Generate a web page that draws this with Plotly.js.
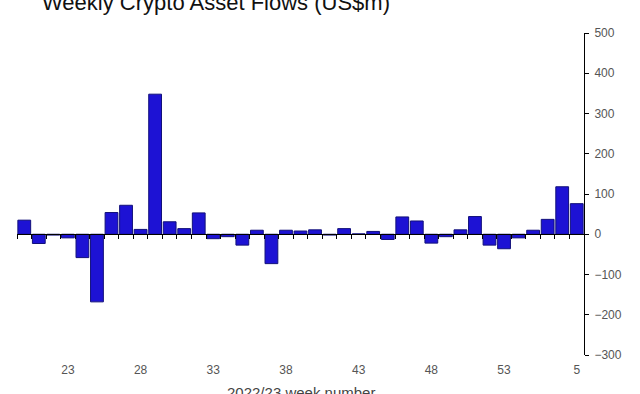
<!DOCTYPE html>
<html>
<head>
<meta charset="utf-8">
<script src="https://cdn.plot.ly/plotly-3.0.1.min.js"></script>
<style>html,body{margin:0;padding:0;background:#fff;}#chart{width:640px;height:394px;}</style>
</head>
<body>
<div id="chart"></div>
<script>
const weeks = ['20','21','22','23','24','25','26','27','28','29','30','31','32','33','34','35','36','37','38','39','40','41','42','43','44','45','46','47','48','49','50','51','52','53','1','2','3','4','5'];
const flows = [35,-23,-2,-9,-58,-168,54,72,12,348,31,14,53,-11,-6,-27,10,-73,10,8,11,-2,14,1,7,-13,43,33,-22,-6,11,44,-27,-36,-9,10,37,118,76];
const labelledWeeks = ['23','28','33','38','43','48','53','5'];
const yTicks = [-300,-200,-100,0,100,200,300,400,500];

const tickText = weeks.map(w => labelledWeeks.includes(w) ? w : '');
const font = "'Liberation Sans', Arial, Helvetica, sans-serif";

Plotly.newPlot('chart', [{
  type: 'bar',
  x: weeks,
  y: flows,
  marker: {color: '#1d12d4', line: {color: '#12107a', width: 1}},
  hoverinfo: 'x+y'
}], {
  width: 640, height: 394,
  margin: {l: 17, r: 56, t: 33, b: 39},
  paper_bgcolor: '#fff', plot_bgcolor: '#fff',
  showlegend: false,
  bargap: 0.12,
  title: {
    text: 'Weekly Crypto Asset Flows (US$m)',
    font: {family: font, size: 22, color: '#111'},
    x: 216/640, xanchor: 'center', xref: 'container',
    y: 1 - 10/394, yanchor: 'bottom', yref: 'container'
  },
  annotations: [{
    text: '2022/23 week number',
    xref: 'paper', yref: 'paper', x: 0.5, y: -0.083,
    xanchor: 'center', yanchor: 'top', showarrow: false,
    font: {family: font, size: 15, color: '#444'}
  }],
  xaxis: {
    type: 'category',
    range: [-0.5, weeks.length - 0.5],
    anchor: 'free', position: 0.375,
    showline: true, linecolor: '#000', linewidth: 1,
    ticks: 'outside', tickson: 'boundaries', ticklen: 4, tickcolor: '#000', tickwidth: 1,
    tickmode: 'array', tickvals: weeks, ticktext: tickText, tickangle: 0,
    ticklabelstandoff: 124,
    tickfont: {family: font, size: 12, color: '#555'},
    showgrid: false, zeroline: false
  },
  yaxis: {
    side: 'right', range: [-300, 500], domain: [0, 1],
    tickmode: 'array', tickvals: yTicks,
    showline: true, linecolor: '#000', linewidth: 1,
    ticks: 'outside', ticklen: 4, tickcolor: '#000',
    ticklabelstandoff: 3,
    tickfont: {family: font, size: 12, color: '#555'},
    showgrid: false, zeroline: false
  }
}, {displayModeBar: false, staticPlot: true});
</script>
</body>
</html>
